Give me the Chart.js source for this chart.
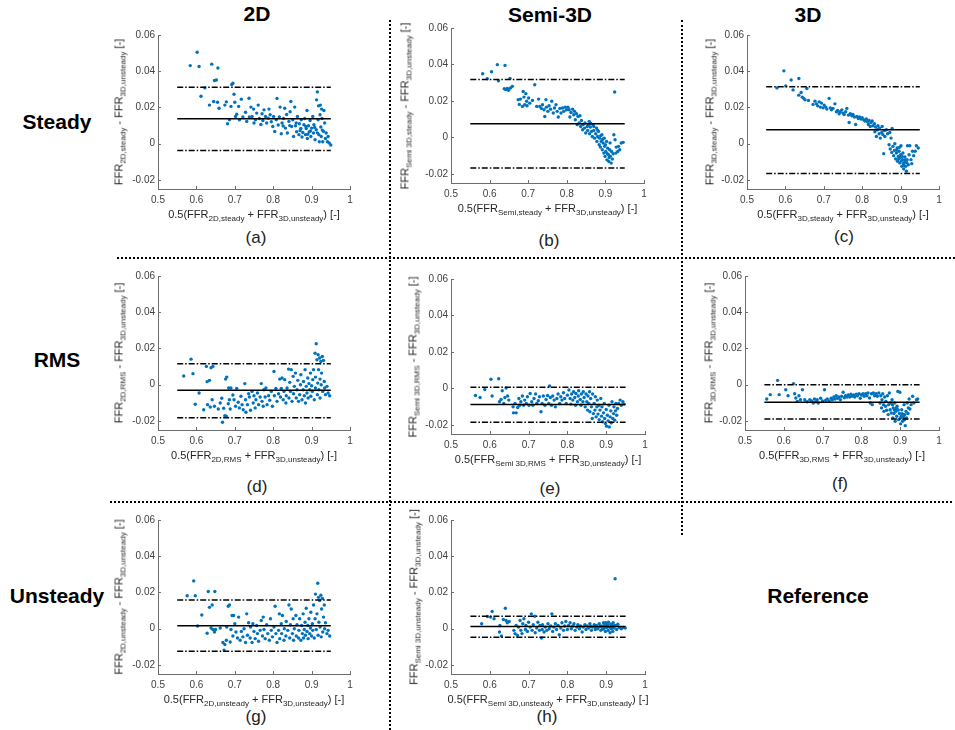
<!DOCTYPE html>
<html>
<head>
<meta charset="utf-8">
<script src="https://cdn.jsdelivr.net/npm/chart.js@4.4.1/dist/chart.umd.min.js"></script>
<style>
  html,body{margin:0;padding:0;background:#fff;}
  body{width:955px;height:730px;position:relative;overflow:hidden;font-family:"Liberation Sans",Arial,Helvetica,sans-serif;}
  .t{position:absolute;transform:translate(-50%,-50%);white-space:nowrap;color:#000;}
  .head{font-weight:bold;font-size:21px;}
  .letter{font-size:17px;color:#222;}
  .ax{font-size:11px;color:#262626;line-height:13px;}
  .ax sub{font-size:8px;vertical-align:-3px;line-height:0;}
  .yt{transform:translate(-50%,-50%) rotate(-90deg);}
  .sep{position:absolute;}
  .v{border-left:2px dotted #000;width:0;}
  .h{border-top:2px dotted #000;height:0;}
</style>
</head>
<body>
<div class="sep v" style="left:389px;top:20px;height:710px"></div>
<div class="sep v" style="left:681px;top:20px;height:515px"></div>
<div class="sep h" style="left:117px;top:257px;width:838px"></div>
<div class="sep h" style="left:110px;top:501px;width:842px"></div>
<script>
// ---------- data ----------
const columnTitles = ['2D', 'Semi-3D', '3D'];
const rowTitles = ['Steady', 'RMS', 'Unsteady'];
const referenceLabel = 'Reference';
const panelLetters = ['(a)', '(b)', '(c)', '(d)', '(e)', '(f)', '(g)', '(h)'];
const xTicks = [0.5, 0.6, 0.7, 0.8, 0.9, 1];
const xTickLabels = ['0.5', '0.6', '0.7', '0.8', '0.9', '1'];
const yTicks = [-0.02, 0, 0.02, 0.04, 0.06];
const yTickLabels = ['-0.02', '0', '0.02', '0.04', '0.06'];
const xRange = [0.5, 1];
const yRange = [-0.025, 0.06];
const limitsX = [0.55, 0.95];
const meanDiff = [0.0138, 0.0075, 0.0077, -0.0031, -0.0088, -0.0097, 0.0016, 0.0012];
const upperLoA = [0.0312, 0.0318, 0.0314, 0.0116, 0.0007, 0.0000, 0.0158, 0.0069];
const lowerLoA = [-0.0037, -0.0168, -0.0165, -0.0182, -0.0185, -0.0189, -0.0124, -0.0047];
// axis title subscripts: [first FFR subscript, second FFR subscript]
const xTitleSubs = [['2D,steady','3D,unsteady'],['Semi,steady','3D,unsteady'],['3D,steady','3D,unsteady'],
  ['2D,RMS','3D,unsteady'],['Semi 3D,RMS','3D,unsteady'],['3D,RMS','3D,unsteady'],
  ['2D,unsteady','3D,unsteady'],['Semi 3D,unsteady','3D,unsteady']];
const yTitleSubs = [['2D,steady','3D,unsteady'],['Semi 3D,steady','3D,unsteady'],['3D,steady','3D,unsteady'],
  ['2D,RMS','3D,unsteady'],['Semi 3D,RMS','3D,unsteady'],['3D,RMS','3D,unsteady'],
  ['2D,unsteady','3D,unsteady'],['Semi 3D,unsteady','3D,unsteady']];

const ptsA = [[0.584,0.0431],[0.602,0.0505],[0.607,0.0426],[0.612,0.0262],[0.622,0.0308],[0.634,0.0213],[0.640,0.0439],[0.645,0.0233],[0.647,0.0349],[0.652,0.0352],
[0.656,0.0418],[0.655,0.0229],[0.659,0.0196],[0.674,0.0213],[0.678,0.0231],[0.681,0.0110],[0.686,0.0132],[0.690,0.0206],[0.692,0.0327],[0.695,0.0334],
[0.698,0.0273],[0.702,0.0150],[0.700,0.0229],[0.705,0.0163],[0.710,0.0206],[0.712,0.0132],[0.717,0.0246],[0.721,0.0147],[0.728,0.0174],[0.731,0.0123],
[0.737,0.0251],[0.738,0.0147],[0.742,0.0202],[0.745,0.0150],[0.749,0.0191],[0.750,0.0114],[0.754,0.0132],[0.757,0.0169],[0.761,0.0213],[0.764,0.0139],
[0.768,0.0106],[0.771,0.0165],[0.773,0.0128],[0.776,0.0187],[0.780,0.0150],[0.783,0.0114],[0.787,0.0141],[0.789,0.0191],[0.792,0.0160],[0.795,0.0121],
[0.799,0.0095],[0.801,0.0150],[0.804,0.0068],[0.808,0.0132],[0.810,0.0250],[0.813,0.0103],[0.816,0.0147],[0.818,0.0202],[0.821,0.0055],[0.823,0.0114],
[0.827,0.0139],[0.830,0.0196],[0.832,0.0086],[0.835,0.0161],[0.837,0.0059],[0.841,0.0123],[0.844,0.0176],[0.846,0.0233],[0.848,0.0095],[0.851,0.0132],
[0.853,0.0040],[0.856,0.0202],[0.858,0.0099],[0.861,0.0066],[0.863,0.0150],[0.867,0.0050],[0.868,0.0110],[0.872,0.0084],[0.873,0.0132],[0.875,0.0037],
[0.877,0.0062],[0.880,0.0105],[0.882,0.0139],[0.884,0.0050],[0.886,0.0084],[0.888,0.0183],[0.889,0.0029],[0.892,0.0099],[0.894,0.0066],[0.896,0.0128],
[0.898,0.0040],[0.900,0.0086],[0.903,0.0150],[0.905,0.0059],[0.906,0.0105],[0.909,0.0022],[0.912,0.0077],[0.913,0.0242],[0.915,0.0286],[0.917,0.0132],
[0.918,0.0209],[0.919,0.0050],[0.920,0.0011],[0.922,0.0160],[0.923,0.0213],[0.924,0.0092],[0.925,0.0040],[0.926,0.0191],[0.927,0.0139],[0.929,0.0011],
[0.931,0.0068],[0.932,0.0183],[0.934,0.0114],[0.936,0.0029],[0.938,0.0059],[0.941,0.0011],[0.943,0.0040],[0.946,0.0004],[0.950,-0.0007],
[0.870,0.0072],[0.885,0.0095],[0.897,0.0070],[0.908,0.0090],[0.915,0.0060],[0.928,0.0075],[0.860,0.0115],[0.843,0.0100],[0.826,0.0098],[0.890,0.0052]];

const ptsB = [[0.582,0.0349],[0.594,0.0322],[0.605,0.0360],[0.620,0.0399],[0.623,0.0311],[0.640,0.0395],[0.638,0.0267],[0.642,0.0262],[0.646,0.0269],[0.649,0.0258],
[0.653,0.0324],[0.654,0.0271],[0.659,0.0280],[0.674,0.0207],[0.677,0.0181],[0.680,0.0210],[0.685,0.0170],[0.687,0.0252],[0.689,0.0221],[0.691,0.0179],
[0.694,0.0240],[0.696,0.0198],[0.697,0.0174],[0.701,0.0216],[0.704,0.0188],[0.711,0.0203],[0.717,0.0289],[0.722,0.0170],[0.727,0.0210],[0.730,0.0170],
[0.734,0.0159],[0.737,0.0179],[0.741,0.0152],[0.743,0.0115],[0.746,0.0207],[0.747,0.0166],[0.751,0.0143],[0.754,0.0174],[0.758,0.0155],[0.761,0.0198],
[0.765,0.0134],[0.768,0.0161],[0.772,0.0179],[0.775,0.0143],[0.778,0.0112],[0.782,0.0159],[0.785,0.0134],[0.789,0.0161],[0.792,0.0143],[0.796,0.0166],
[0.799,0.0152],[0.803,0.0166],[0.806,0.0152],[0.808,0.0112],[0.811,0.0137],[0.815,0.0155],[0.818,0.0124],[0.820,0.0143],[0.822,0.0097],[0.825,0.0130],
[0.827,0.0070],[0.829,0.0115],[0.832,0.0079],[0.834,0.0119],[0.836,0.0060],[0.838,0.0093],[0.841,0.0042],[0.842,0.0070],[0.846,0.0051],[0.847,0.0079],
[0.849,0.0024],[0.853,0.0060],[0.854,0.0038],[0.858,0.0088],[0.859,0.0020],[0.861,0.0057],[0.864,0.0033],[0.866,0.0005],[0.868,0.0070],[0.870,0.0038],
[0.872,-0.0004],[0.875,0.0020],[0.877,0.0051],[0.878,-0.0022],[0.880,0.0005],[0.882,0.0033],[0.884,-0.0040],[0.885,-0.0004],[0.887,-0.0053],[0.889,-0.0022],
[0.891,0.0015],[0.892,-0.0068],[0.894,-0.0031],[0.896,-0.0086],[0.897,-0.0004],[0.898,-0.0049],[0.899,-0.0104],[0.901,-0.0077],[0.903,-0.0022],[0.904,-0.0123],
[0.906,-0.0059],[0.908,-0.0095],[0.909,-0.0132],[0.911,-0.0068],[0.913,-0.0104],[0.915,-0.0141],[0.916,-0.0077],[0.918,-0.0119],[0.920,-0.0090],[0.922,0.0015],
[0.924,0.0249],[0.925,-0.0013],[0.927,-0.0086],[0.928,-0.0053],[0.932,-0.0077],[0.934,-0.0049],[0.937,-0.0068],[0.941,-0.0031],[0.946,-0.0027],
[0.870,0.0060],[0.862,0.0078],[0.856,0.0070],[0.880,0.0040],[0.888,0.0010],[0.893,-0.0010],[0.900,-0.0040],[0.905,-0.0090],[0.910,-0.0110],[0.912,-0.0030]];

const ptsC = [[0.578,0.0308],[0.596,0.0402],[0.601,0.0319],[0.615,0.0352],[0.620,0.0297],[0.635,0.0360],[0.635,0.0268],[0.641,0.0283],[0.644,0.0257],[0.648,0.0250],
[0.651,0.0242],[0.656,0.0305],[0.660,0.0239],[0.672,0.0217],[0.677,0.0235],[0.681,0.0220],[0.684,0.0209],[0.688,0.0231],[0.691,0.0202],[0.694,0.0224],
[0.698,0.0198],[0.701,0.0213],[0.705,0.0202],[0.708,0.0191],[0.714,0.0250],[0.717,0.0198],[0.720,0.0187],[0.724,0.0195],[0.729,0.0220],[0.733,0.0176],
[0.736,0.0183],[0.740,0.0165],[0.743,0.0176],[0.747,0.0187],[0.750,0.0169],[0.753,0.0161],[0.757,0.0176],[0.760,0.0195],[0.764,0.0158],[0.766,0.0117],
[0.769,0.0165],[0.773,0.0154],[0.776,0.0161],[0.780,0.0147],[0.783,0.0106],[0.786,0.0150],[0.790,0.0139],[0.793,0.0147],[0.797,0.0136],[0.800,0.0143],
[0.804,0.0132],[0.807,0.0125],[0.811,0.0136],[0.814,0.0121],[0.816,0.0106],[0.818,0.0128],[0.821,0.0095],[0.823,0.0117],[0.826,0.0125],[0.828,0.0099],
[0.832,0.0110],[0.833,0.0066],[0.835,0.0092],[0.837,0.0040],[0.839,0.0077],[0.841,0.0099],[0.844,0.0055],[0.845,0.0086],[0.847,0.0031],[0.851,0.0062],
[0.852,0.0095],[0.854,0.0050],[0.856,-0.0055],[0.858,0.0073],[0.859,0.0040],[0.863,0.0077],[0.866,0.0055],[0.870,-0.0006],[0.872,0.0062],[0.873,-0.0029],
[0.875,0.0031],[0.877,-0.0048],[0.878,0.0084],[0.880,-0.0015],[0.882,-0.0066],[0.884,-0.0037],[0.885,0.0000],[0.887,-0.0084],[0.889,-0.0051],[0.891,-0.0024],
[0.892,-0.0097],[0.894,-0.0070],[0.896,-0.0042],[0.898,-0.0106],[0.899,-0.0077],[0.901,-0.0011],[0.903,-0.0125],[0.905,-0.0088],[0.906,-0.0051],[0.908,-0.0139],
[0.910,-0.0103],[0.911,-0.0073],[0.913,-0.0125],[0.915,-0.0152],[0.917,-0.0088],[0.918,-0.0011],[0.920,-0.0116],[0.922,-0.0061],[0.924,-0.0011],[0.927,-0.0088],
[0.929,-0.0110],[0.931,-0.0042],[0.934,-0.0066],[0.938,-0.0042],[0.941,-0.0011],[0.946,-0.0024],
[0.895,-0.0085],[0.902,-0.0095],[0.907,-0.0110],[0.912,-0.0090],[0.900,-0.0060],[0.890,-0.0035],[0.916,-0.0105],[0.909,-0.0120],[0.897,-0.0020],[0.904,-0.0070]];

const ptsD = [[0.567,0.0048],[0.586,0.0141],[0.591,0.0061],[0.597,-0.0108],[0.607,-0.0046],[0.619,-0.0138],[0.626,0.0101],[0.628,0.0017],[0.629,-0.0110],[0.634,0.0024],
[0.636,-0.0123],[0.638,0.0094],[0.641,-0.0083],[0.643,0.0101],[0.647,-0.0119],[0.657,-0.0134],[0.662,-0.0101],[0.666,-0.0075],[0.668,-0.0207],[0.671,-0.0130],
[0.674,-0.0171],[0.676,0.0031],[0.678,-0.0174],[0.679,0.0042],[0.683,-0.0105],[0.684,-0.0018],[0.686,-0.0083],[0.688,-0.0134],[0.690,-0.0018],[0.695,-0.0057],
[0.698,-0.0083],[0.702,-0.0119],[0.705,-0.0020],[0.709,-0.0097],[0.712,-0.0128],[0.716,-0.0064],[0.719,-0.0110],[0.722,-0.0138],[0.726,0.0006],[0.728,-0.0083],
[0.729,-0.0152],[0.733,-0.0110],[0.736,-0.0050],[0.738,-0.0068],[0.741,-0.0141],[0.745,-0.0037],[0.748,-0.0101],[0.750,-0.0061],[0.753,-0.0128],[0.755,-0.0083],
[0.759,-0.0046],[0.762,-0.0110],[0.766,-0.0068],[0.769,0.0006],[0.771,-0.0092],[0.774,-0.0119],[0.776,-0.0028],[0.779,-0.0068],[0.781,-0.0018],[0.784,-0.0110],
[0.788,-0.0061],[0.791,-0.0086],[0.795,-0.0037],[0.798,-0.0119],[0.802,0.0073],[0.803,-0.0061],[0.807,-0.0020],[0.810,-0.0092],[0.814,-0.0050],[0.817,0.0031],
[0.819,-0.0068],[0.821,-0.0020],[0.823,0.0037],[0.826,-0.0083],[0.828,-0.0037],[0.830,0.0028],[0.833,-0.0101],[0.834,-0.0061],[0.836,-0.0018],[0.840,0.0086],
[0.841,-0.0073],[0.843,0.0013],[0.845,-0.0037],[0.847,0.0083],[0.849,-0.0092],[0.852,0.0046],[0.853,-0.0050],[0.855,-0.0009],[0.858,0.0064],[0.860,-0.0073],
[0.862,-0.0028],[0.864,0.0024],[0.866,-0.0092],[0.869,-0.0055],[0.871,0.0000],[0.872,0.0055],[0.875,-0.0083],[0.878,-0.0028],[0.879,0.0018],[0.881,-0.0061],
[0.883,0.0083],[0.884,-0.0101],[0.886,-0.0009],[0.888,-0.0046],[0.890,0.0037],[0.891,-0.0073],[0.893,0.0006],[0.895,-0.0028],[0.897,0.0064],[0.898,-0.0064],
[0.900,-0.0006],[0.902,-0.0037],[0.903,0.0028],[0.905,0.0083],[0.907,-0.0083],[0.909,0.0174],[0.910,-0.0018],[0.910,0.0042],[0.912,0.0226],[0.914,0.0138],
[0.915,-0.0055],[0.916,0.0009],[0.917,0.0165],[0.918,0.0083],[0.919,-0.0028],[0.921,0.0147],[0.922,0.0031],[0.922,-0.0073],[0.924,0.0128],[0.925,0.0000],
[0.926,0.0064],[0.928,0.0156],[0.929,-0.0037],[0.931,0.0134],[0.933,0.0018],[0.934,-0.0018],[0.936,-0.0055],[0.940,-0.0009],[0.943,-0.0046],[0.947,-0.0061]];

const ptsE = [[0.563,-0.0039],[0.575,-0.0050],[0.587,-0.0006],[0.603,0.0050],[0.606,-0.0042],[0.623,0.0053],[0.625,-0.0073],[0.629,-0.0061],[0.632,-0.0013],[0.636,-0.0083],
[0.639,-0.0050],[0.642,0.0002],[0.646,-0.0042],[0.649,-0.0064],[0.660,-0.0101],[0.661,-0.0134],[0.665,-0.0083],[0.668,-0.0134],[0.672,-0.0105],[0.675,-0.0055],
[0.677,-0.0092],[0.680,-0.0073],[0.684,-0.0042],[0.687,-0.0092],[0.690,-0.0064],[0.694,-0.0083],[0.697,-0.0046],[0.701,-0.0092],[0.704,-0.0028],[0.708,-0.0073],
[0.711,-0.0092],[0.714,-0.0055],[0.718,-0.0031],[0.721,-0.0083],[0.725,-0.0068],[0.728,-0.0046],[0.732,-0.0128],[0.735,-0.0083],[0.738,-0.0042],[0.742,-0.0092],
[0.745,-0.0061],[0.749,-0.0039],[0.752,-0.0083],[0.754,0.0013],[0.756,-0.0050],[0.759,-0.0092],[0.762,-0.0042],[0.766,-0.0064],[0.769,-0.0101],[0.773,-0.0055],
[0.776,-0.0031],[0.780,-0.0083],[0.783,-0.0046],[0.786,-0.0064],[0.790,-0.0024],[0.793,-0.0055],[0.797,-0.0083],[0.800,-0.0037],[0.804,-0.0009],[0.807,-0.0055],
[0.809,-0.0086],[0.811,-0.0031],[0.814,-0.0064],[0.816,-0.0018],[0.819,-0.0050],[0.821,-0.0092],[0.822,-0.0028],[0.826,-0.0073],[0.828,-0.0042],[0.829,-0.0013],
[0.833,-0.0061],[0.835,-0.0092],[0.836,-0.0031],[0.840,-0.0073],[0.841,-0.0018],[0.843,-0.0050],[0.846,-0.0101],[0.848,-0.0031],[0.850,-0.0073],[0.852,-0.0119],
[0.853,-0.0042],[0.855,-0.0083],[0.857,-0.0018],[0.858,-0.0128],[0.860,-0.0055],[0.862,-0.0101],[0.864,-0.0165],[0.865,-0.0031],[0.867,-0.0138],[0.869,-0.0083],
[0.871,-0.0119],[0.872,-0.0046],[0.874,-0.0156],[0.876,-0.0101],[0.877,-0.0064],[0.879,-0.0141],[0.881,-0.0092],[0.882,-0.0171],[0.884,-0.0119],[0.886,-0.0055],
[0.888,-0.0152],[0.889,-0.0101],[0.891,-0.0183],[0.893,-0.0134],[0.895,-0.0083],[0.896,-0.0165],[0.898,-0.0193],[0.900,-0.0116],[0.901,-0.0207],[0.903,-0.0147],
[0.905,-0.0178],[0.907,-0.0092],[0.908,-0.0211],[0.910,-0.0156],[0.912,-0.0123],[0.913,-0.0189],[0.915,-0.0073],[0.917,-0.0165],[0.919,-0.0138],[0.920,-0.0101],
[0.922,-0.0174],[0.924,-0.0123],[0.925,-0.0083],[0.927,-0.0147],[0.929,-0.0110],[0.932,-0.0083],[0.936,-0.0064],[0.939,-0.0092],[0.943,-0.0073],[0.946,-0.0086]];

const ptsF = [[0.556,-0.0079],[0.565,-0.0055],[0.584,0.0024],[0.588,-0.0055],[0.605,-0.0028],[0.611,-0.0061],[0.625,0.0006],[0.628,-0.0050],[0.631,-0.0073],[0.635,-0.0092],
[0.639,-0.0061],[0.643,-0.0083],[0.648,-0.0028],[0.654,-0.0083],[0.660,-0.0094],[0.667,-0.0083],[0.672,-0.0090],[0.676,-0.0101],[0.679,-0.0079],[0.683,-0.0094],
[0.686,-0.0083],[0.689,-0.0101],[0.695,-0.0075],[0.700,-0.0090],[0.705,-0.0028],[0.708,-0.0086],[0.712,-0.0079],[0.717,-0.0090],[0.722,-0.0075],[0.725,-0.0083],
[0.729,-0.0068],[0.732,-0.0079],[0.735,-0.0061],[0.739,-0.0075],[0.742,-0.0068],[0.746,-0.0083],[0.749,-0.0064],[0.753,-0.0042],[0.756,-0.0072],[0.759,-0.0061],
[0.763,-0.0068],[0.766,-0.0057],[0.770,-0.0068],[0.773,-0.0053],[0.776,-0.0064],[0.780,-0.0057],[0.783,-0.0068],[0.787,-0.0053],[0.790,-0.0061],[0.794,-0.0050],
[0.797,-0.0075],[0.800,-0.0057],[0.804,-0.0050],[0.807,-0.0064],[0.811,-0.0050],[0.814,-0.0061],[0.817,-0.0046],[0.821,-0.0073],[0.823,-0.0101],[0.826,-0.0050],
[0.828,-0.0110],[0.831,-0.0046],[0.834,-0.0061],[0.838,-0.0050],[0.841,-0.0064],[0.845,-0.0046],[0.848,-0.0101],[0.850,-0.0061],[0.852,-0.0128],[0.853,-0.0083],
[0.855,-0.0050],[0.857,-0.0110],[0.858,-0.0147],[0.860,-0.0068],[0.862,-0.0119],[0.863,-0.0092],[0.865,-0.0141],[0.867,-0.0061],[0.869,-0.0165],[0.870,-0.0110],
[0.872,-0.0046],[0.874,-0.0138],[0.875,-0.0101],[0.877,-0.0156],[0.879,-0.0083],[0.881,-0.0183],[0.882,-0.0128],[0.884,-0.0159],[0.886,-0.0101],[0.887,-0.0202],
[0.889,-0.0147],[0.891,-0.0174],[0.892,-0.0119],[0.894,-0.0037],[0.896,-0.0193],[0.898,-0.0159],[0.899,-0.0042],[0.901,-0.0216],[0.903,-0.0174],[0.904,-0.0138],
[0.906,-0.0202],[0.908,-0.0165],[0.910,-0.0110],[0.911,-0.0193],[0.913,-0.0226],[0.915,-0.0147],[0.916,-0.0183],[0.918,-0.0101],[0.920,-0.0159],[0.921,-0.0128],
[0.923,-0.0079],[0.925,-0.0134],[0.928,-0.0110],[0.932,-0.0064],[0.935,-0.0101],[0.942,-0.0083],[0.945,-0.0079],
[0.895,-0.0140],[0.900,-0.0185],[0.905,-0.0160],[0.909,-0.0180],[0.912,-0.0165],[0.890,-0.0130],[0.880,-0.0110],[0.885,-0.0140]];

const ptsG = [[0.576,0.0182],[0.593,0.0264],[0.597,0.0182],[0.603,0.0015],[0.614,0.0076],[0.628,-0.0025],[0.631,0.0205],[0.634,0.0118],[0.638,0.0004],[0.641,0.0131],
[0.643,-0.0004],[0.647,-0.0018],[0.648,0.0205],[0.650,-0.0004],[0.662,0.0004],[0.669,-0.0076],[0.672,-0.0118],[0.674,-0.0087],[0.678,-0.0064],[0.679,0.0009],
[0.683,0.0124],[0.686,0.0131],[0.688,-0.0073],[0.690,-0.0004],[0.693,0.0073],[0.695,-0.0040],[0.697,0.0073],[0.700,0.0027],[0.703,-0.0018],[0.707,-0.0051],
[0.710,0.0064],[0.714,-0.0064],[0.717,-0.0015],[0.721,-0.0045],[0.724,0.0000],[0.728,-0.0076],[0.731,0.0082],[0.733,-0.0036],[0.736,0.0033],[0.740,-0.0051],
[0.741,0.0009],[0.745,-0.0076],[0.747,0.0027],[0.750,-0.0015],[0.753,-0.0055],[0.757,0.0018],[0.759,-0.0027],[0.762,-0.0069],[0.766,-0.0009],[0.769,0.0045],
[0.772,-0.0040],[0.774,0.0064],[0.776,-0.0004],[0.779,-0.0055],[0.783,0.0022],[0.786,-0.0027],[0.790,-0.0064],[0.793,0.0055],[0.795,-0.0009],[0.798,-0.0045],
[0.802,0.0009],[0.805,0.0124],[0.807,-0.0027],[0.810,-0.0076],[0.814,-0.0009],[0.816,0.0082],[0.817,-0.0055],[0.821,0.0027],[0.822,-0.0027],[0.824,0.0073],
[0.828,-0.0064],[0.829,0.0000],[0.833,-0.0040],[0.834,0.0040],[0.838,-0.0009],[0.841,0.0131],[0.843,-0.0051],[0.845,0.0022],[0.847,0.0109],[0.850,-0.0027],
[0.852,0.0055],[0.853,-0.0064],[0.855,0.0000],[0.859,0.0073],[0.860,-0.0040],[0.862,0.0022],[0.866,-0.0051],[0.867,-0.0009],[0.869,0.0055],[0.872,-0.0064],
[0.874,0.0018],[0.876,-0.0027],[0.878,0.0082],[0.879,-0.0051],[0.881,-0.0004],[0.883,0.0036],[0.884,-0.0036],[0.886,0.0113],[0.888,-0.0015],[0.890,0.0018],
[0.891,-0.0055],[0.893,0.0055],[0.895,-0.0027],[0.897,0.0004],[0.898,0.0091],[0.900,-0.0040],[0.902,0.0027],[0.903,-0.0009],[0.905,0.0131],[0.907,-0.0051],
[0.909,0.0055],[0.910,0.0191],[0.912,-0.0004],[0.914,0.0082],[0.916,0.0251],[0.917,-0.0036],[0.918,0.0173],[0.919,0.0036],[0.921,0.0155],[0.922,0.0009],
[0.924,0.0185],[0.925,-0.0045],[0.926,0.0109],[0.928,0.0167],[0.929,-0.0018],[0.931,0.0064],[0.933,0.0131],[0.934,0.0000],[0.936,0.0033],[0.940,-0.0027],
[0.943,-0.0009],[0.947,-0.0040]];

const ptsH = [[0.579,0.0027],[0.594,0.0067],[0.602,0.0064],[0.606,0.0095],[0.611,0.0055],[0.625,-0.0018],[0.626,0.0018],[0.630,-0.0040],[0.635,0.0051],[0.640,0.0113],
[0.642,0.0045],[0.645,0.0033],[0.650,0.0040],[0.662,-0.0009],[0.665,-0.0027],[0.668,0.0018],[0.671,-0.0036],[0.674,0.0009],[0.678,0.0045],[0.680,-0.0009],
[0.683,-0.0027],[0.685,0.0027],[0.688,0.0055],[0.692,-0.0004],[0.693,0.0018],[0.697,-0.0015],[0.700,0.0036],[0.704,0.0009],[0.707,0.0082],[0.709,-0.0009],
[0.712,0.0022],[0.716,0.0069],[0.717,-0.0022],[0.721,0.0004],[0.724,0.0036],[0.728,-0.0009],[0.729,0.0018],[0.733,-0.0051],[0.735,-0.0004],[0.736,0.0022],
[0.740,-0.0018],[0.743,0.0009],[0.747,-0.0009],[0.750,0.0027],[0.753,0.0000],[0.757,0.0015],[0.760,0.0082],[0.762,-0.0015],[0.765,0.0009],[0.769,0.0027],
[0.772,-0.0004],[0.776,0.0018],[0.779,-0.0033],[0.783,0.0004],[0.786,0.0033],[0.790,-0.0009],[0.793,0.0015],[0.796,0.0040],[0.800,-0.0004],[0.803,0.0018],
[0.807,0.0033],[0.810,0.0000],[0.814,0.0015],[0.817,0.0027],[0.820,-0.0009],[0.824,0.0009],[0.827,0.0022],[0.831,0.0000],[0.834,0.0015],[0.838,-0.0018],
[0.841,0.0009],[0.845,0.0022],[0.848,-0.0004],[0.851,0.0015],[0.855,0.0004],[0.858,0.0027],[0.862,-0.0009],[0.865,0.0009],[0.869,0.0022],[0.872,-0.0004],
[0.875,0.0018],[0.879,0.0007],[0.882,0.0027],[0.886,-0.0009],[0.889,0.0015],[0.893,0.0033],[0.894,0.0000],[0.896,0.0018],[0.898,-0.0015],[0.899,0.0033],
[0.901,0.0007],[0.903,0.0022],[0.905,-0.0009],[0.906,0.0036],[0.908,0.0009],[0.910,-0.0022],[0.912,0.0025],[0.913,0.0000],[0.915,0.0018],[0.917,-0.0015],
[0.918,0.0033],[0.920,0.0004],[0.923,0.0276],[0.924,0.0018],[0.927,-0.0004],[0.930,0.0025],[0.934,0.0007],[0.939,0.0000],[0.944,0.0007],[0.949,0.0004],
[0.885,0.0012],[0.890,-0.0003],[0.897,0.0010],[0.904,0.0014],[0.911,0.0008],[0.916,0.0005],[0.921,0.0016],[0.878,0.0000],[0.870,0.0011],[0.860,0.0012]];

const panelPoints = [ptsA, ptsB, ptsC, ptsD, ptsE, ptsF, ptsG, ptsH];

// ---------- layout (positions in page pixels) ----------
const layoutBoxes = [
  {L:158,R:350,T:35,B:189,ytx:119},
  {L:451,R:644,T:28,B:183,ytx:405},
  {L:747,R:939,T:35,B:189,ytx:710},
  {L:158,R:350,T:276,B:430,ytx:119},
  {L:451,R:645,T:279,B:434,ytx:413},
  {L:745,R:939,T:276,B:430,ytx:709},
  {L:158,R:350,T:520,B:674,ytx:119},
  {L:451,R:645,T:520,B:674,ytx:414}
];
const letterPos = [[256,238],[549,241],[844,237],[257,487],[550,489],[840,484],[256,717],[547,717]];
const colTitlePos = [[257,14],[550,15],[808,15]];
const rowTitlePos = [[57,122],[57,360],[57,596]];
const refPos = [818,596];

const FONT = '"Liberation Sans", Arial, Helvetica, sans-serif';
function addText(cls, html, x, y) {
  const d = document.createElement('div');
  d.className = 't ' + cls;
  d.innerHTML = html;
  d.style.left = x + 'px';
  d.style.top = y + 'px';
  document.body.appendChild(d);
}
columnTitles.forEach((s,i)=>addText('head', s, colTitlePos[i][0], colTitlePos[i][1]));
rowTitles.forEach((s,i)=>addText('head', s, rowTitlePos[i][0], rowTitlePos[i][1]));
addText('head', referenceLabel, refPos[0], refPos[1]);
panelLetters.forEach((s,i)=>addText('letter', s, letterPos[i][0], letterPos[i][1]));

const inwardTicks = {
  id: 'inwardTicks',
  afterDraw(chart) {
    const {ctx, chartArea:a, scales:{x, y}} = chart;
    ctx.save();
    ctx.strokeStyle = '#6e6e6e';
    ctx.lineWidth = 1;
    ctx.beginPath();
    x.ticks.forEach(t => { const px = Math.round(x.getPixelForValue(t.value)) + 0.5; ctx.moveTo(px, a.bottom); ctx.lineTo(px, a.bottom - 3); });
    y.ticks.forEach(t => { const py = Math.round(y.getPixelForValue(t.value)) + 0.5; ctx.moveTo(a.left, py); ctx.lineTo(a.left + 3, py); });
    ctx.stroke();
    ctx.restore();
  }
};

const PAD_L = 42, PAD_T = 12, PAD_R = 12, PAD_B = 24;
layoutBoxes.forEach((p, i) => {
  const w = p.R - p.L + PAD_L + PAD_R, h = p.B - p.T + PAD_T + PAD_B;
  const c = document.createElement('canvas');
  c.width = w; c.height = h;
  c.style.cssText = `position:absolute;left:${p.L - PAD_L}px;top:${p.T - PAD_T}px;width:${w}px;height:${h}px;`;
  document.body.appendChild(c);
  const hline = (v, dash) => ({
    type: 'line',
    data: [{x: limitsX[0], y: v}, {x: limitsX[1], y: v}],
    borderColor: '#000', borderWidth: 1.5, borderDash: dash, borderCapStyle: 'butt',
    pointRadius: 0, showLine: true, fill: false
  });
  new Chart(c, {
    type: 'scatter',
    data: { datasets: [
      hline(upperLoA[i], [6, 2, 1.5, 2]),
      hline(lowerLoA[i], [6, 2, 1.5, 2]),
      hline(meanDiff[i], []),
      { data: panelPoints[i].map(([x, y]) => ({x, y})), backgroundColor: '#0072BD', borderWidth: 0, pointRadius: 1.7 }
    ]},
    options: {
      responsive: false, animation: false, devicePixelRatio: 1,
      layout: { padding: { left: 0, top: PAD_T, right: PAD_R, bottom: 0 } },
      plugins: { legend: { display: false }, tooltip: { enabled: false } },
      scales: {
        x: {
          type: 'linear', min: xRange[0], max: xRange[1],
          afterBuildTicks: s => { s.ticks = xTicks.map(v => ({value: v})); },
          afterFit: s => { s.height = PAD_B; },
          grid: { display: false, drawTicks: false },
          border: { display: true, color: '#6e6e6e', width: 1 },
          ticks: { callback: (v, idx) => xTickLabels[idx], font: { size: 10, family: FONT }, color: '#404040', padding: 5, maxRotation: 0, autoSkip: false }
        },
        y: {
          type: 'linear', min: yRange[0], max: yRange[1],
          afterBuildTicks: s => { s.ticks = yTicks.map(v => ({value: v})); },
          afterFit: s => { s.width = PAD_L; },
          grid: { display: false, drawTicks: false },
          border: { display: true, color: '#6e6e6e', width: 1 },
          ticks: { callback: (v, idx) => yTickLabels[idx], font: { size: 10, family: FONT }, color: '#404040', padding: 3, autoSkip: false }
        }
      }
    },
    plugins: [inwardTicks]
  });
  const xs = xTitleSubs[i], ys = yTitleSubs[i];
  addText('ax', `0.5(FFR<sub>${xs[0]}</sub> + FFR<sub>${xs[1]}</sub>) [-]`, (p.L + p.R) / 2, p.B + 25);
  addText('ax yt', `FFR<sub>${ys[0]}</sub> - FFR<sub>${ys[1]}</sub> [-]`, p.ytx, (p.T + p.B) / 2);
});
</script>
</body>
</html>
